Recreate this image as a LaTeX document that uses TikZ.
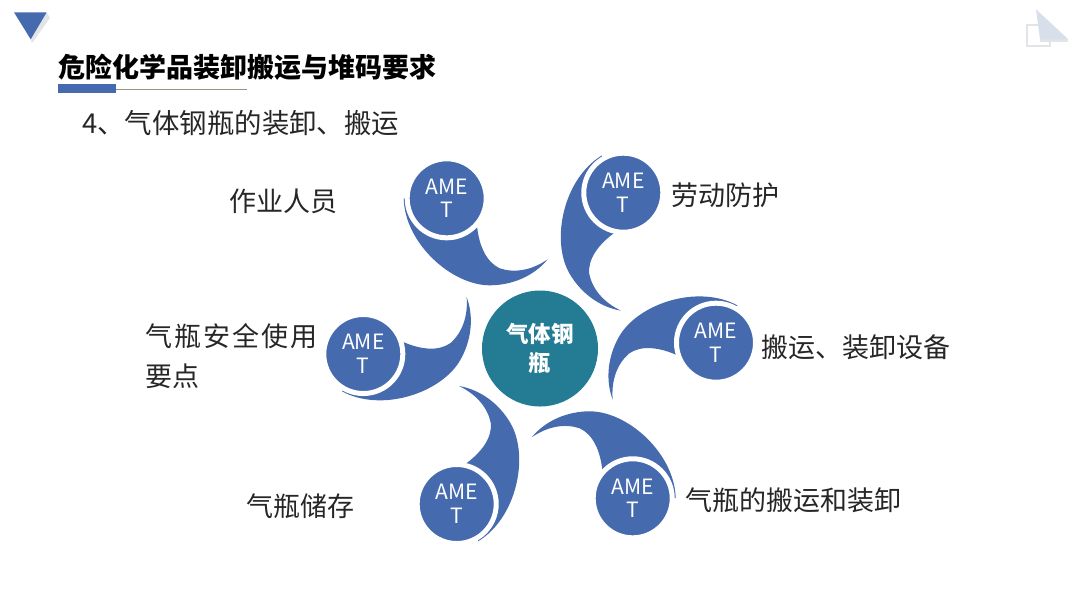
\documentclass[tikz,border=0pt]{standalone}
\usepackage{fontspec}
\setmainfont{Noto Sans CJK SC}
\usepackage{xcolor}
\usetikzlibrary{positioning}
\definecolor{ametblue}{RGB}{69, 106, 174}
\definecolor{hubteal}{RGB}{35, 124, 147}
\definecolor{ruleolive}{RGB}{150, 150, 120}
\definecolor{iconpale}{RGB}{214, 223, 234}
\definecolor{iconline}{RGB}{226, 228, 232}

\begin{document}
\begin{tikzpicture}[
        x=0.025cm, y=-0.025cm,
        amet/.style={draw=white, fill=ametblue, circle, line width=3.56pt, inner sep=0pt, minimum size=56.2pt,
                    align=center, text=white, font=\fontsize{15}{17}\selectfont},
        hub/.style={fill=hubteal, circle, inner sep=0pt, minimum size=82.5pt, align=center, text=white,
                    font=\fontsize{16}{21}\selectfont\bfseries},
        swoosh/.style={fill=ametblue},
        caption/.style={inner sep=0pt, align=left, text=black!85, font=\fontsize{19.2}{29}\selectfont}
      ]
        \useasboundingbox (0,0) rectangle (1080,608);
        % header marks
        \fill[iconline] (46.7,12.3) -- (50,18) -- (32,43) -- (30.7,39.3) -- cycle;
        \fill[ametblue] (14,12.3) -- (46.7,12.3) -- (30.7,39.3) -- cycle;
        \draw[iconline, line width=1.4pt] (1027,25) rectangle (1050,46);
        \fill[iconline] (1040,39) -- (1068,39) -- (1068,42) -- (1040,42) -- cycle;
        \fill[iconpale] (1036,9.3) -- (1068.3,39.3) -- (1040,39.3) -- cycle;
        \node[inner sep=0pt, anchor=west, font=\fontsize{19.2}{24}\selectfont\bfseries] (title) at (58.5,67) {危险化学品装卸搬运与堆码要求};
        \fill[ametblue] (58.3,84) rectangle (115.7,92.7);
        \draw[ruleolive, line width=0.8pt] (115.7,89.3) -- (247,89.3);
        \node[inner sep=0pt, anchor=west, text=black!85, font=\fontsize{19.5}{24}\selectfont] (subtitle) at (82,123) {4、气体钢瓶的装卸、搬运};
        % swooshes and circles
        \foreach \cx/\cy/\ang/\nm in {446.7/198.3/0/ameA, 623.3/192.7/-60/ameB, 716/342.7/-120/ameC,
                                      632.7/498.3/-180/ameD, 456.7/504/-240/ameE, 363.3/354/-300/ameF} {
          \fill[swoosh, shift={(\cx,\cy)}, rotate=\ang] (-43,0)
              .. controls (-42,45) and (5,87) .. (43,87)
              .. controls (65,87) and (87,78) .. (101,61)
              .. controls (85,72) and (68,75) .. (53,70)
              .. controls (40,64) and (32,48) .. (30,25) -- cycle;
          \node[amet] (\nm) at (\cx,\cy) {AME\\T};
        }
        \node[hub] (center) at (540,348.5) {气体钢\\瓶};
        % captions
        \node[caption, left=1.68cm of ameA, yshift=-2pt] (capA) {作业人员};
        \node[caption, right=0.14cm of ameB, yshift=-2pt] (capB) {劳动防护};
        \node[caption, right=0.08cm of ameC, yshift=-3pt] (capC) {搬运、装卸设备};
        \node[caption, right=0.26cm of ameD, yshift=-1.5pt] (capD) {气瓶的搬运和装卸};
        \node[caption, left=1.5cm of ameE, yshift=-1.5pt] (capE) {气瓶储存};
        \node[caption, left=0.08cm of ameF, yshift=-1.5pt] (capF) {\addfontfeature{LetterSpace=8}气瓶安全使用\\要点};
      \end{tikzpicture}
\end{document}
